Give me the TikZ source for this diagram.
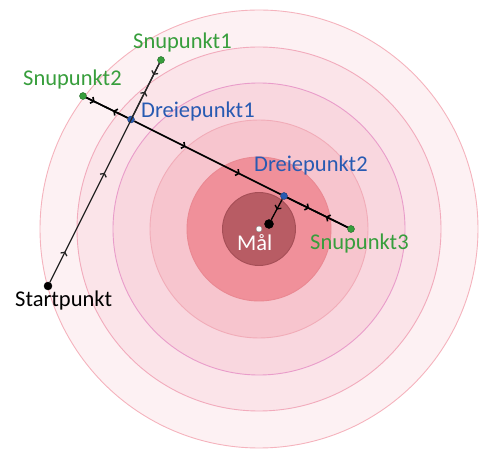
\documentclass[tikz,border=0pt]{standalone}
\usepackage{fontspec}
\setmainfont{Carlito}
\usetikzlibrary{arrows.meta, decorations.markings, positioning}

\definecolor{snugreen}{RGB}{55,158,60}
\definecolor{dreieblue}{RGB}{40,90,178}
\definecolor{ringA}{HTML}{FDF1F3}
\definecolor{ringB}{HTML}{FBE4E9}
\definecolor{ringC}{HTML}{F9D7DF}
\definecolor{ringD}{HTML}{F7C5CE}
\definecolor{ringE}{HTML}{F0909A}
\definecolor{ringF}{HTML}{B85C64}
\definecolor{edgeA}{HTML}{F5B3BD}
\definecolor{edgeB}{HTML}{F2ABBC}
\definecolor{edgeC}{HTML}{E99CCA}
\definecolor{edgeD}{HTML}{F1ACB8}
\definecolor{edgeE}{HTML}{EA8892}
\definecolor{edgeF}{HTML}{A54E56}

\begin{document}
\begin{tikzpicture}[x=1pt, y=-1pt,
    ring/.style 2 args={fill=#1, draw=#2, line width=0.9pt},
    dot/.style={circle, inner sep=0pt, minimum size=7pt, fill=#1, draw=#1!65!black},
    lbl/.style={font=\fontsize{22.5}{27}\selectfont, inner sep=0pt, anchor=base west},
    spor/.style={draw=black, line width=1.6pt},
    pil/.style={postaction={decorate, decoration={markings,
        mark=at position #1 with {\arrow{Straight Barb[length=2.5pt, width=7pt]}}}}}]
    \useasboundingbox (0,0) rectangle (488,454);

    % rings round the goal, largest first
    \coordinate (maal) at (259,229);
    \path[ring={ringA}{edgeA}] (maal) circle (219);
    \path[ring={ringB}{edgeB}] (maal) circle (182);
    \path[ring={ringC}{edgeC}] (maal) circle (146);
    \path[ring={ringD}{edgeD}] (maal) circle (109);
    \path[ring={ringE}{edgeE}] (maal) circle (72);
    \path[ring={ringF}{edgeF}] (maal) circle (36.5);

    % points
    \node[dot=black, minimum size=8pt] (start) at (48,286) {};
    \node[dot=snugreen] (snu1) at (161,60) {};
    \node[dot=snugreen] (snu2) at (83,96) {};
    \node[dot=snugreen] (snu3) at (351,229) {};
    \node[dot=dreieblue] (dreie1) at (131,119.5) {};
    \node[dot=dreieblue] (dreie2) at (284,196) {};
    \node[dot=black, minimum size=9pt] (slutt) at (269,224) {};
    \node[circle, inner sep=0pt, minimum size=6pt, fill=white, draw=gray] (maalpkt) at (maal) {};

    % the route
    \path[spor, line width=1.3pt, draw=black!85, pil=0.14, pil=0.5, pil=0.87] (start) -- (snu1);
    \path[spor, line width=1.3pt, draw=black!85, pil=0.22] (snu1) -- (dreie1);
    \path[spor, pil=0.35] (dreie1) -- (snu2);
    \path[spor, pil=0.2] (snu2) -- (dreie1);
    \path[spor, pil=0.35, pil=0.72] (dreie1) -- (dreie2);
    \path[spor, pil=0.36] (dreie2) -- (snu3);
    \path[spor, pil=0.36] (snu3) -- (dreie2);
    \path[spor, line width=1.3pt, pil=0.5] (dreie2) -- (slutt);

    % labels
    \node[lbl, text=snugreen] (snu1txt) at (133,49) {Snupunkt1};
    \node[lbl, text=snugreen] (snu2txt) at (23,86) {Snupunkt2};
    \node[lbl, text=snugreen] (snu3txt) at (310,250) {Snupunkt3};
    \node[lbl, text=dreieblue] (dreie1txt) at (141,118) {Dreiepunkt1};
    \node[lbl, text=dreieblue] (dreie2txt) at (254,172) {Dreiepunkt2};
    \node[lbl, text=white] (maaltxt) at (237,251) {Mål};
    \node[lbl, text=black] (starttxt) at (15,307) {Startpunkt};
\end{tikzpicture}
\end{document}
